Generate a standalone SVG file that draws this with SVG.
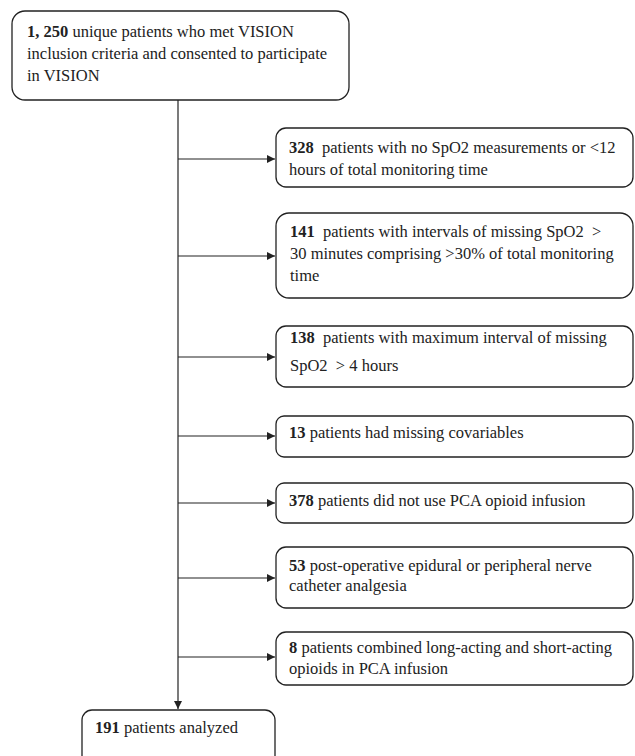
<svg xmlns="http://www.w3.org/2000/svg" width="635" height="756" viewBox="0 0 635 756">
<defs>
<style>
.box{fill:#fff;stroke:#222;stroke-width:1.3}
.t{font-family:"Liberation Serif","Times New Roman",serif;font-size:16.5px;fill:#222;white-space:pre}
.b{font-weight:bold}
.c{stroke:#222;stroke-width:1.2;fill:none}
</style>
<marker id="ah" viewBox="0 0 10 10" refX="10" refY="5" markerWidth="8" markerHeight="8" markerUnits="userSpaceOnUse" orient="auto">
<path d="M0,0 L10,5 L0,10 z" fill="#222"/>
</marker>
</defs>
<g id="connectors">
<line class="c" x1="178" y1="100" x2="178" y2="709" marker-end="url(#ah)"/>
<line class="c" x1="178" y1="159" x2="275" y2="159" marker-end="url(#ah)"/>
<line class="c" x1="178" y1="256" x2="275" y2="256" marker-end="url(#ah)"/>
<line class="c" x1="178" y1="357" x2="275" y2="357" marker-end="url(#ah)"/>
<line class="c" x1="178" y1="436" x2="275" y2="436" marker-end="url(#ah)"/>
<line class="c" x1="178" y1="503" x2="275" y2="503" marker-end="url(#ah)"/>
<line class="c" x1="178" y1="578" x2="275" y2="578" marker-end="url(#ah)"/>
<line class="c" x1="178" y1="657" x2="275" y2="657" marker-end="url(#ah)"/>
</g>
<g id="n0">
<rect class="box" x="12" y="11" width="337" height="89" rx="13"/>
<text class="t" x="27" y="37"><tspan class="b">1, 250</tspan> unique patients who met VISION</text>
<text class="t" x="27" y="59">inclusion criteria and consented to participate</text>
<text class="t" x="27" y="81">in VISION</text>
</g>
<g id="n1">
<rect class="box" x="276" y="128" width="357" height="59" rx="10"/>
<text class="t" x="289" y="153"><tspan class="b">328</tspan>  patients with no SpO2 measurements or &lt;12</text>
<text class="t" x="289" y="175">hours of total monitoring time</text>
</g>
<g id="n2">
<rect class="box" x="276" y="213" width="357" height="85" rx="13"/>
<text class="t" x="290" y="237"><tspan class="b">141</tspan>  patients with intervals of missing SpO2  &gt;</text>
<text class="t" x="290" y="259">30 minutes comprising &gt;30% of total monitoring</text>
<text class="t" x="290" y="281">time</text>
</g>
<g id="n3">
<rect class="box" x="276" y="326" width="357" height="61" rx="10"/>
<text class="t" x="290" y="343"><tspan class="b">138</tspan>  patients with maximum interval of missing</text>
<text class="t" x="290" y="371">SpO2  &gt; 4 hours</text>
</g>
<g id="n4">
<rect class="box" x="276" y="416" width="357" height="41" rx="8"/>
<text class="t" x="289" y="438"><tspan class="b">13</tspan> patients had missing covariables</text>
</g>
<g id="n5">
<rect class="box" x="276" y="483" width="357" height="40" rx="8"/>
<text class="t" x="289" y="506"><tspan class="b">378</tspan> patients did not use PCA opioid infusion</text>
</g>
<g id="n6">
<rect class="box" x="276" y="547" width="357" height="61" rx="10"/>
<text class="t" x="289" y="571"><tspan class="b">53</tspan> post-operative epidural or peripheral nerve</text>
<text class="t" x="289" y="591">catheter analgesia</text>
</g>
<g id="n7">
<rect class="box" x="276" y="632" width="357" height="53" rx="10"/>
<text class="t" x="289" y="653"><tspan class="b">8</tspan> patients combined long-acting and short-acting</text>
<text class="t" x="289" y="674">opioids in PCA infusion</text>
</g>
<g id="n8">
<rect class="box" x="82" y="710" width="193" height="60" rx="10"/>
<text class="t" x="95" y="733"><tspan class="b">191</tspan> patients analyzed</text>
</g>
</svg>
